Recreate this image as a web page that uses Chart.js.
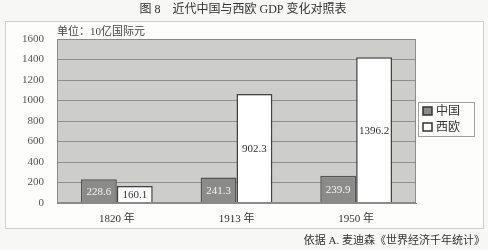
<!DOCTYPE html>
<html lang="zh">
<head>
  <meta charset="UTF-8">
  <title>近代中国与西欧 GDP 变化对照表</title>
  <script src="https://cdn.jsdelivr.net/npm/chart.js"></script>
  <style>
    body {
      margin: 0;
      background: #f7f7f5;
    }
    #wrap {
      width: 488px;
      height: 250px;
    }
  </style>
</head>
<body>
  <div id="wrap"><canvas id="grafico" width="488" height="250"></canvas></div>

  <script>
    const categorias = ['1820 年', '1913 年', '1950 年'];
    const series = ['中国', '西欧'];
    // bar heights as drawn in the picture
    const china = [232, 248, 265];
    const westEurope = [166, 1063, 1422];
    // values as printed on the bars
    const chinaText = ['228.6', '241.3', '239.9'];
    const westEuropeText = ['160.1', '902.3', '1396.2'];
    const yTicks = [0, 200, 400, 600, 800, 1000, 1200, 1400, 1600];

    const FONT = '"Liberation Serif", "Noto Sans CJK SC", serif';

    const fondo = {
      id: 'fondo',
      beforeDraw(chart) {
        const { ctx, chartArea: a } = chart;
        ctx.save();
        // outer frame
        ctx.fillStyle = '#fdfdfc';
        ctx.fillRect(5, 21, 478, 207);
        ctx.strokeStyle = '#cfcfcf';
        ctx.lineWidth = 1;
        ctx.strokeRect(5.5, 21.5, 478, 207);
        // plot area
        ctx.fillStyle = '#cdcdcc';
        ctx.fillRect(a.left, a.top, a.right - a.left, a.bottom - a.top);
        ctx.restore();
      },
      afterDraw(chart) {
        const { ctx, chartArea: a } = chart;
        ctx.save();
        ctx.strokeStyle = '#8a8a8a';
        ctx.lineWidth = 1;
        ctx.strokeRect(a.left + 0.5, a.top + 0.5, a.right - a.left - 1, a.bottom - a.top - 1);

        // title
        ctx.fillStyle = '#333';
        ctx.font = '12px ' + FONT;
        ctx.textAlign = 'center';
        ctx.textBaseline = 'middle';
        ctx.fillText('图 8　近代中国与西欧 GDP 变化对照表', 243, 10);

        // unit
        ctx.font = '11px ' + FONT;
        ctx.textAlign = 'left';
        ctx.fillStyle = '#444';
        ctx.fillText('单位：10亿国际元', 57, 32);

        // source
        ctx.textAlign = 'right';
        ctx.fillStyle = '#333';
        ctx.fillText('依据 A. 麦迪森《世界经济千年统计》', 485, 241);

        // value labels
        const textos = [chinaText, westEuropeText];
        const colores = ['#f4f4f4', '#333'];
        ctx.font = '11px ' + FONT;
        ctx.textAlign = 'center';
        chart.data.datasets.forEach((ds, i) => {
          chart.getDatasetMeta(i).data.forEach((bar, j) => {
            const mid = (bar.y + bar.base) / 2;
            ctx.fillStyle = colores[i];
            ctx.fillText(textos[i][j], bar.x, mid + 1);
          });
        });

        // legend
        const lx = 418, ly = 102, lw = 56, lh = 34;
        ctx.fillStyle = '#fdfdfc';
        ctx.fillRect(lx, ly, lw, lh);
        ctx.strokeStyle = '#a0a0a0';
        ctx.strokeRect(lx + 0.5, ly + 0.5, lw, lh);
        chart.data.datasets.forEach((ds, i) => {
          const y = ly + 9 + i * 16;
          ctx.fillStyle = ds.backgroundColor;
          ctx.fillRect(lx + 5, y - 4, 9, 8);
          ctx.strokeStyle = '#333';
          ctx.lineWidth = 1.5;
          ctx.strokeRect(lx + 5, y - 4, 9, 8);
          ctx.fillStyle = '#333';
          ctx.textAlign = 'left';
          ctx.font = '12px ' + FONT;
          ctx.fillText(ds.label, lx + 18, y + 1);
        });
        ctx.restore();
      }
    };

    new Chart(document.getElementById('grafico'), {
      type: 'bar',
      data: {
        labels: categorias,
        datasets: [
          {
            label: series[0],
            data: china,
            backgroundColor: '#8b8b8a',
            borderColor: '#555',
            borderWidth: 1.5,
            categoryPercentage: 0.6,
            barPercentage: 1
          },
          {
            label: series[1],
            data: westEurope,
            backgroundColor: '#ffffff',
            borderColor: '#444',
            borderWidth: 1.5,
            categoryPercentage: 0.6,
            barPercentage: 1
          }
        ]
      },
      options: {
        responsive: false,
        animation: false,
        layout: {
          padding: { top: 39, right: 72, bottom: 0, left: 0 }
        },
        plugins: {
          legend: { display: false },
          title: { display: false },
          tooltip: { enabled: false }
        },
        scales: {
          x: {
            grid: { display: false },
            border: { color: '#8a8a8a' },
            ticks: {
              color: '#333',
              padding: 2,
              font: { family: FONT, size: 11 }
            },
            afterFit(scale) { scale.height = 47; }
          },
          y: {
            min: 0,
            max: 1600,
            afterBuildTicks(scale) {
              scale.ticks = yTicks.map(v => ({ value: v }));
            },
            grid: { color: '#8f8f8f', drawTicks: false },
            border: { color: '#8a8a8a' },
            ticks: {
              color: '#555',
              padding: 13,
              font: { family: FONT, size: 11 },
              callback: v => String(v)
            },
            afterFit(scale) { scale.width = 57; }
          }
        }
      },
      plugins: [fondo]
    });
  </script>
</body>
</html>
